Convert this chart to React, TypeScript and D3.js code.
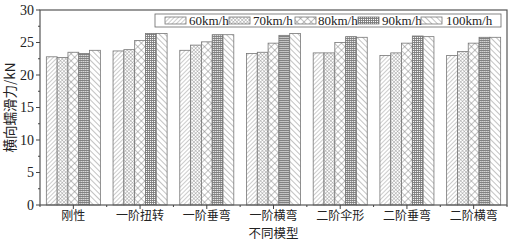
import React from "react";
import * as d3 from "d3";

const categories = ["刚性", "一阶扭转", "一阶垂弯", "一阶横弯", "二阶伞形", "二阶垂弯", "二阶横弯"];
const seriesNames = ["60km/h", "70km/h", "80km/h", "90km/h", "100km/h"];
const v60 = [22.8, 23.7, 23.8, 23.3, 23.4, 23.0, 23.0];
const v70 = [22.7, 23.9, 24.6, 23.5, 23.4, 23.4, 23.6];
const v80 = [23.5, 25.3, 25.1, 24.9, 25.0, 24.9, 24.9];
const v90 = [23.3, 26.4, 26.2, 26.1, 25.9, 26.0, 25.8];
const v100 = [23.8, 26.4, 26.2, 26.4, 25.8, 25.9, 25.8];
const seriesValues = [v60, v70, v80, v90, v100];
const yTicks = [0, 5, 10, 15, 20, 25, 30];

const W = 512, H = 242;
const L = 40, R = 507, T = 10, B = 205;
const SERIF = "'Liberation Serif', 'Times New Roman', 'Noto Sans CJK SC', serif";
const CJK = "'Noto Sans CJK SC', sans-serif";

export default function App() {
  const x = d3.scaleBand<string>().domain(categories).range([L, R]).paddingInner(0.19).paddingOuter(0.095);
  const xs = d3.scaleBand<string>().domain(seriesNames).range([0, x.bandwidth()]).padding(0);
  const y = d3.scaleLinear().domain([0, 30]).range([B, T]);
  const minorY = d3.range(2.5, 30, 5);
  const step = x.step();
  const boundaries = d3.range(0, categories.length + 1).map((i) => L + i * step);
  const patIds = ["p60", "p70", "p80", "p90", "p100"];

  const legendX = 155, legendY = 14, legendW = 346, legendH = 13;
  const legendItems = [
    { sx: 165, tx: 189 },
    { sx: 229, tx: 253 },
    { sx: 295, tx: 318 },
    { sx: 358, tx: 382 },
    { sx: 421, tx: 446 },
  ];

  return (
    <svg width={W} height={H} style={{ position: "absolute", left: 0, top: 0, background: "#fff" }}>
      <defs>
        <pattern id="p60" width="3" height="3" patternUnits="userSpaceOnUse" patternTransform="rotate(45)">
          <rect width="3" height="3" fill="#fff" />
          <line x1="0" y1="0" x2="0" y2="3" stroke="#9a9a9a" strokeWidth="1" />
        </pattern>
        <pattern id="p70" width="2.5" height="2.5" patternUnits="userSpaceOnUse" patternTransform="rotate(45)">
          <rect width="2.5" height="2.5" fill="#fff" />
          <line x1="0" y1="0" x2="0" y2="2.5" stroke="#8a8a8a" strokeWidth="0.8" />
          <line x1="0" y1="0" x2="2.5" y2="0" stroke="#8a8a8a" strokeWidth="0.8" />
        </pattern>
        <pattern id="p80" width="5" height="5" patternUnits="userSpaceOnUse" patternTransform="rotate(45)">
          <rect width="5" height="5" fill="#fff" />
          <line x1="0" y1="0" x2="0" y2="5" stroke="#777" strokeWidth="0.9" />
          <line x1="0" y1="0" x2="5" y2="0" stroke="#777" strokeWidth="0.9" />
        </pattern>
        <pattern id="p90" width="2" height="2" patternUnits="userSpaceOnUse">
          <rect width="2" height="2" fill="#fff" />
          <line x1="0.5" y1="0" x2="0.5" y2="2" stroke="#7a7a7a" strokeWidth="0.9" />
          <line x1="0" y1="0.5" x2="2" y2="0.5" stroke="#7a7a7a" strokeWidth="0.9" />
        </pattern>
        <pattern id="p100" width="4" height="4" patternUnits="userSpaceOnUse" patternTransform="rotate(-45)">
          <rect width="4" height="4" fill="#fff" />
          <line x1="0" y1="0" x2="0" y2="4" stroke="#777" strokeWidth="0.9" />
        </pattern>
      </defs>

      {/* bars */}
      {categories.map((c, ci) => (
        <g key={c} transform={`translate(${x(c)},0)`}>
          {seriesNames.map((s, si) => {
            const v = seriesValues[si][ci];
            return (
              <rect key={s} x={xs(s)} y={y(v)} width={xs.bandwidth()} height={y(0) - y(v)}
                fill={`url(#${patIds[si]})`} stroke="#777" strokeWidth={0.8} />
            );
          })}
        </g>
      ))}

      {/* frame */}
      <rect x={L} y={T} width={R - L} height={B - T} fill="none" stroke="#555" strokeWidth={1.2} />

      {/* y ticks */}
      {yTicks.map((t) => (
        <g key={t}>
          <line x1={L - 4} x2={L} y1={y(t)} y2={y(t)} stroke="#444" strokeWidth={1} />
          <text x={L - 6} y={y(t)} dy="0.35em" textAnchor="end" fontFamily={SERIF} fontSize={14} fill="#222">{t}</text>
        </g>
      ))}
      {minorY.map((t) => (
        <line key={t} x1={L - 2} x2={L} y1={y(t)} y2={y(t)} stroke="#444" strokeWidth={1} />
      ))}

      {/* x ticks */}
      {categories.map((c) => {
        const cx = (x(c) as number) + x.bandwidth() / 2;
        return (
          <g key={c}>
            <line x1={cx} x2={cx} y1={B} y2={B + 4} stroke="#444" strokeWidth={1} />
            <text x={cx} y={B + 14.5} textAnchor="middle" fontFamily={CJK} fontSize={12} fill="#222">{c}</text>
          </g>
        );
      })}
      {boundaries.map((bx, i) => (
        <line key={i} x1={bx} x2={bx} y1={B} y2={B + 2} stroke="#444" strokeWidth={1} />
      ))}

      {/* axis titles */}
      <text x={(L + R) / 2} y={238} textAnchor="middle" fontFamily={CJK} fontSize={12.5} fill="#222">不同模型</text>
      <text transform={`translate(15,${(T + B) / 2}) rotate(-90)`} textAnchor="middle" fontFamily={CJK} fontSize={13.5} fill="#222">横向蠕滑力/kN</text>

      {/* legend */}
      <rect x={legendX} y={legendY} width={legendW} height={legendH} fill="#fff" stroke="#666" strokeWidth={0.8} />
      {seriesNames.map((s, i) => (
        <g key={s}>
          <rect x={legendItems[i].sx} y={legendY + 3} width={21} height={7} fill={`url(#${patIds[i]})`} stroke="#777" strokeWidth={0.8} />
          <text x={legendItems[i].tx} y={legendY + legendH / 2} dy="0.35em" fontFamily={SERIF} fontSize={13} fill="#222">{s}</text>
        </g>
      ))}
    </svg>
  );
}
